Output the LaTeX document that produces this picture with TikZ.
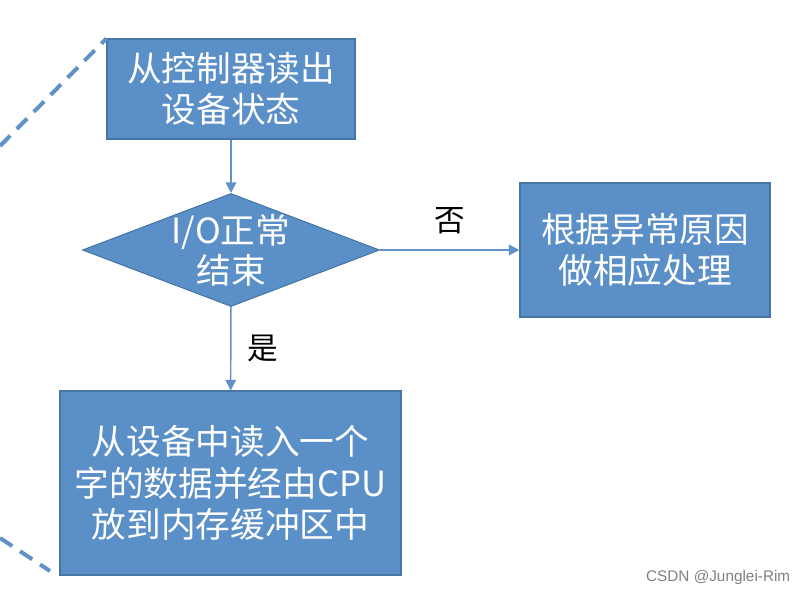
\documentclass[tikz,border=0pt]{standalone}
\usepackage{fontspec}
\setmainfont{Noto Sans CJK SC}
\newfontfamily\wmfont{Liberation Sans}
\usepackage{xcolor}
\usetikzlibrary{shapes.geometric,arrows.meta,positioning}
\definecolor{boxblue}{RGB}{91,143,199}
\definecolor{boxedge}{RGB}{70,118,166}
\definecolor{lineblue}{RGB}{96,146,200}

\tikzset{
  procbox/.style={draw=boxedge, line width=0.8pt, fill=boxblue, text=white,
    font=\fontsize{26}{31}\selectfont, align=center, inner sep=0pt},
  decbox/.style={diamond, draw=boxedge, line width=0.8pt, fill=boxblue, inner sep=0pt},
  flow/.style={draw=lineblue, line width=1.1pt, -{Triangle[width=8pt,length=8pt]}},
  answer/.style={font=\fontsize{23}{27}\selectfont, text=black},
  guide/.style={draw=lineblue, line width=3pt, dash pattern=on 11pt off 7pt}
}

\begin{document}
\begin{tikzpicture}[x=0.75pt, y=-0.75pt]
    \useasboundingbox (0,0) rectangle (809,596);

    % Steps
    \node[procbox, minimum width=186pt, minimum height=75pt] (read) at (231,89) {从控制器读出\\设备状态};
    \node[decbox, minimum width=222.75pt, minimum height=84.75pt,
      label={[text=white, font=\fontsize{26}{30}\selectfont, align=center]center:I/O正常\\结束}] (check) at (231,250) {};
    \node[procbox, minimum width=187.5pt, minimum height=100.5pt] (error) at (645,250) {根据异常原因\\做相应处理};
    \node[procbox, minimum width=255.75pt, minimum height=138pt] (store) at (230.5,483) {从设备中读入一个\\字的数据并经由CPU\\放到内存缓冲区中};

    % Connectors
    \draw[flow] (read) -- (check);
    \draw[flow] (check) -- node[answer, above=8pt] {否} (error);
    \draw[flow] (check) -- node[answer, right=9pt] {是} (store);

    % Loop hints
    \coordinate (loopin) at (0,146);
    \coordinate (loopout) at (0,538);
    \coordinate (loopend) at (50,571);
    \draw[guide] (loopin) -- (read.north west);
    \draw[guide] (loopout) -- (loopend);

    % Watermark
    \node[font=\wmfont\fontsize{11.5}{13}\selectfont, text=gray, anchor=east] (mark) at (795,578) {CSDN @Junglei-Rim};
\end{tikzpicture}
\end{document}
